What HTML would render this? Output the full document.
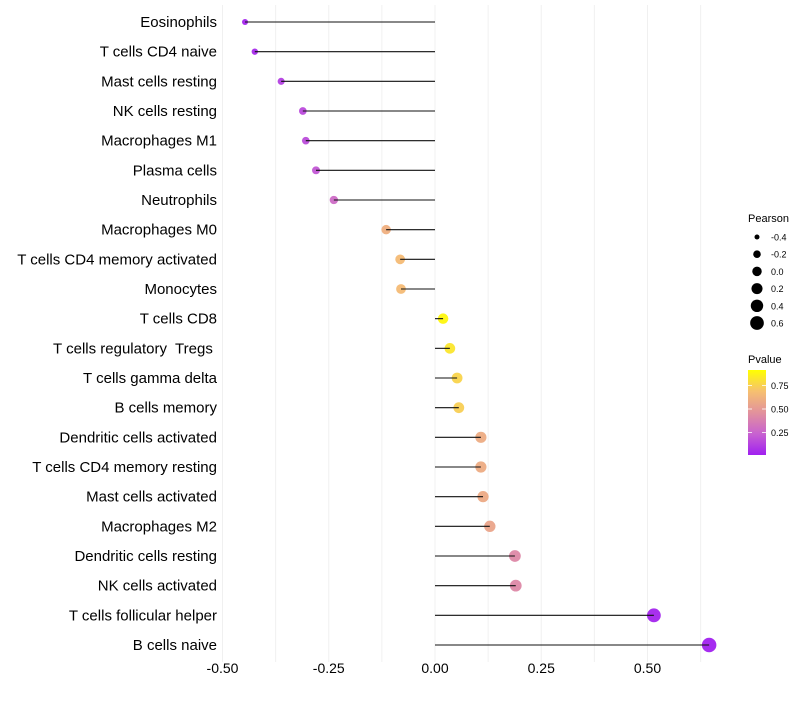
<!DOCTYPE html>
<html><head><meta charset="utf-8"><style>
body{margin:0;background:#fff;font-family:"Liberation Sans",sans-serif}
text{white-space:pre}
</style></head><body>
<svg id="chart" width="800" height="700" xmlns="http://www.w3.org/2000/svg" font-family="Liberation Sans, sans-serif" xml:space="preserve">
<defs><linearGradient id="pg" x1="0" y1="1" x2="0" y2="0">
<stop offset="0" stop-color="#a020f0"/><stop offset="0.25" stop-color="#c862d0"/><stop offset="0.5" stop-color="#e2929c"/><stop offset="0.75" stop-color="#f6c070"/><stop offset="1" stop-color="#ffff00"/></linearGradient></defs>
<g id="grid"></g>
<g id="marks"></g>
<g id="axes"></g>
<g id="legend"></g>
</svg>
<script>
const categories=["Eosinophils","T cells CD4 naive","Mast cells resting","NK cells resting","Macrophages M1","Plasma cells","Neutrophils","Macrophages M0","T cells CD4 memory activated","Monocytes","T cells CD8","T cells regulatory  Tregs ","T cells gamma delta","B cells memory","Dendritic cells activated","T cells CD4 memory resting","Mast cells activated","Macrophages M2","Dendritic cells resting","NK cells activated","T cells follicular helper","B cells naive"];
const pearson=[-0.447,-0.424,-0.362,-0.311,-0.304,-0.28,-0.238,-0.115,-0.082,-0.08,0.019,0.035,0.052,0.056,0.108,0.108,0.113,0.129,0.188,0.19,0.515,0.645];
const pvalue=[0.02,0.04,0.12,0.16,0.17,0.21,0.3,0.66,0.72,0.72,0.97,0.9,0.83,0.81,0.64,0.64,0.63,0.6,0.45,0.45,0.02,0.005];
const xTicks=[-0.5,-0.25,0,0.25,0.5];
const xTickLabels=["-0.50","-0.25","0.00","0.25","0.50"];
const sizeLegend=[-0.4,-0.2,0.0,0.2,0.4,0.6];
const sizeLegendLabels=["-0.4","-0.2","0.0","0.2","0.4","0.6"];
const pTicks=[0.25,0.5,0.75];
const pTickLabels=["0.25","0.50","0.75"];

const NS="http://www.w3.org/2000/svg";
const X=v=>435+v*425;
const Y=i=>22+i*(623/21);
const R=v=>Math.sqrt(Math.max(4,27+40*v));
const RL=v=>Math.sqrt(Math.max(4,22.5+40.5*v));
function lerp(a,b,t){return a+(b-a)*t}
function hex(h){return [1,3,5].map(i=>parseInt(h.substr(i,2),16))}
const stops=[[0,hex("#a020f0")],[0.25,hex("#c862d0")],[0.5,hex("#e2929c")],[0.75,hex("#f6c070")],[1,hex("#ffff00")]];
function col(p){let s=Math.min(3,Math.floor(p/0.25));let a=stops[s],b=stops[s+1];let t=(p-a[0])/(b[0]-a[0]);return "rgb("+a[1].map((c,k)=>Math.round(lerp(c,b[1][k],t))).join(",")+")"}
function el(t,at,parent){const e=document.createElementNS(NS,t);for(const k in at)e.setAttribute(k,at[k]);parent.appendChild(e);return e}
const grid=document.getElementById('grid'),marks=document.getElementById('marks'),axes=document.getElementById('axes'),leg=document.getElementById('legend');
for(let v=-0.5;v<=0.6501;v+=0.125){
 const l=el('line',{x1:X(v),x2:X(v),y1:5,y2:662,stroke:'#f0f0f0','stroke-width':1},grid);
 
 
}
xTicks.forEach((v,i)=>{
 const t=el('text',{x:X(v),y:673,'font-size':14,'text-anchor':'middle',fill:'#000'},axes);
 t.textContent=xTickLabels[i];
 
 
});
categories.forEach((c,i)=>{
 const y=Y(i);
 const t=el('text',{x:217,y:y+5,'font-size':15,'text-anchor':'end',fill:'#000'},axes);
 t.textContent=c;
 
 
 const p=el('circle',{cx:X(pearson[i]),cy:y,r:R(pearson[i]),fill:col(pvalue[i]),'fill-opacity':0.95},marks);
 
 
 const s=el('line',{x1:X(0),x2:X(pearson[i]),y1:y,y2:y,stroke:'#111','stroke-width':1.1},marks);
 
 
});
let tt=el('text',{x:748,y:222,'font-size':11},leg);tt.textContent="Pearson";


sizeLegend.forEach((v,i)=>{
 const y=237+i*17.2;
 const c=el('circle',{cx:757,cy:y,r:RL(v),fill:'#000'},leg);
 
 
 const t=el('text',{x:771,y:y+3.5,'font-size':9},leg);t.textContent=sizeLegendLabels[i];
 
 
});
let pt=el('text',{x:748,y:363,'font-size':11},leg);pt.textContent="Pvalue";


const PY=v=>456-v*94;
let bar=el('rect',{x:748,y:370,width:18,height:85,fill:'url(#pg)'},leg);


pTicks.forEach((v,i)=>{
 el('line',{x1:748,x2:752,y1:PY(v),y2:PY(v),stroke:'#fff','stroke-width':0.8},leg);
 el('line',{x1:762,x2:766,y1:PY(v),y2:PY(v),stroke:'#fff','stroke-width':0.8},leg);
 const t=el('text',{x:771,y:PY(v)+3.5,'font-size':9},leg);t.textContent=pTickLabels[i];
 
 
});
</script>
</body></html>
